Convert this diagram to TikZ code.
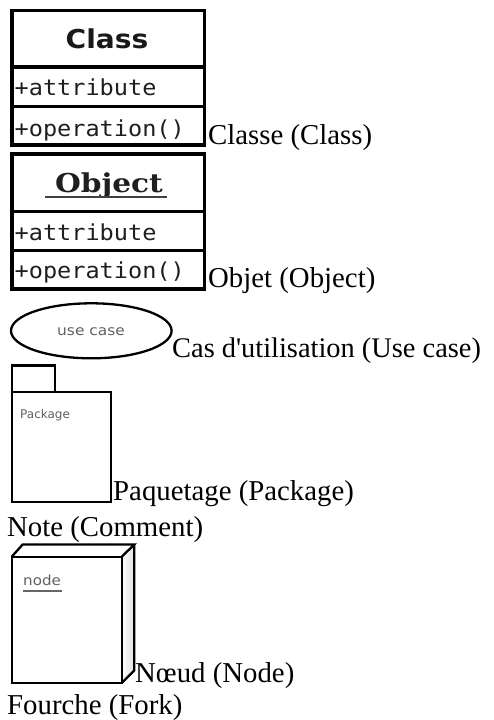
\documentclass[tikz,border=0pt]{standalone}
\usepackage{fontspec}
\newfontfamily\labelfont{Liberation Serif}
\newfontfamily\umlsans{DejaVu Sans}
\newfontfamily\umlsansbold{DejaVu Sans Bold}
\newfontfamily\umlmono{DejaVu Sans Mono}
\newfontfamily\umlserifbold{DejaVu Serif Bold}
\tikzset{
  caption/.style={anchor=base west, inner sep=0pt, text=black,
    font=\labelfont\fontsize{28.8}{33}\selectfont},
  umlframe/.style={draw=black, line width=3.6pt},
  member/.style={anchor=base west, inner sep=0pt, xscale=1.07, text=black!88,
    font=\umlmono\fontsize{22}{26}\selectfont},
  thinframe/.style={draw=black, line width=2.3pt},
  smalltag/.style={inner sep=0pt, text=black!62},
}
\begin{document}
\begin{tikzpicture}[x=1pt,y=-1pt]
\useasboundingbox[fill=white] (0,0) rectangle (493,720);

% --- Class box
\draw[umlframe] (12,10.3) rectangle (204.5,145);
\draw[umlframe] (12,66.7) -- (204.5,66.7);
\draw[umlframe] (12,106.3) -- (204.5,106.3);
\node[anchor=base, inner sep=0pt, xscale=1.08, text=black!90,
  font=\umlsansbold\fontsize{26}{30}\selectfont] (classname) at (107,48.3) {Class};
\node[member] (classattr) at (14.5,95.5) {+attribute};
\node[member] (classop) at (14.5,136) {+operation()};
\node[caption] (classcap) at (208,144.5) {Classe (Class)};

% --- Object box
\draw[umlframe] (12,153.8) rectangle (204.5,288.7);
\draw[umlframe] (12,211.3) -- (204.5,211.3);
\draw[umlframe] (12,250.3) -- (204.5,250.3);
\node[anchor=base, inner sep=0pt, xscale=1.14, text=black!88,
  font=\umlserifbold\fontsize{26}{30}\selectfont] (objname) at (109,192.3) {Object};
\draw[black!75, line width=2pt] (45,197) -- (167,197);
\node[member] (objattr) at (14.5,240) {+attribute};
\node[member] (objop) at (14.5,278.5) {+operation()};
\node[caption] (objcap) at (208,287) {Objet (Object)};

% --- Use case
\draw[thinframe] (91.3,330.8) ellipse [x radius=80.3, y radius=27.5];
\node[smalltag, anchor=base, xscale=1.1, font=\umlsans\fontsize{14}{16}\selectfont]
  (ucname) at (91,335) {use case};
\node[caption, font=\labelfont\fontsize{28.4}{33}\selectfont] (uccap) at (172,357) {Cas d'utilisation (Use case)};

% --- Package
\draw[thinframe] (11.7,365.5) rectangle (55,391.7);
\draw[thinframe] (11.7,391.7) rectangle (111,501.7);
\node[smalltag, anchor=base west, font=\umlsans\fontsize{12}{14}\selectfont]
  (pkgname) at (20,418) {Package};
\node[caption] (pkgcap) at (113,500.7) {Paquetage (Package)};

% --- Note
\node[caption] (notecap) at (7,536.7) {Note (Comment)};

% --- Deployment node (box with depth)
\path[left color=white, right color=black!12] (121.7,556.7) -- (134.3,544.5) -- (134.3,670.5) -- (121.7,683) -- cycle;
\draw[thinframe, line join=miter] (11.7,556.7) rectangle (121.7,683);
\draw[thinframe, line join=miter] (11.7,556.7) -- (22.7,544.5) -- (134.3,544.5) -- (121.7,556.7);
\draw[thinframe, line join=miter] (134.3,544.5) -- (134.3,670.5) -- (121.7,683);
\node[smalltag, anchor=base west, xscale=1.08, font=\umlsans\fontsize{14}{16}\selectfont]
  (nodename) at (23,585.5) {node};
\draw[black!60, line width=1.3pt] (22.5,591) -- (62,591);
\node[caption] (nodecap) at (135,682) {Nœud (Node)};

% --- Fork
\node[caption] (forkcap) at (7,714) {Fourche (Fork)};
\end{tikzpicture}
\end{document}
